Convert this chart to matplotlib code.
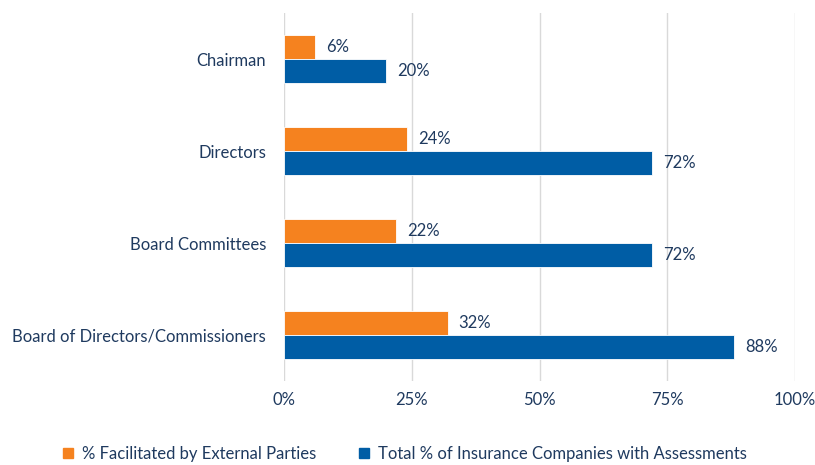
import matplotlib
matplotlib.use("Agg")
import matplotlib.pyplot as plt
from matplotlib.patches import Patch
import numpy as np

categories = ["Chairman", "Directors", "Board Committees", "Board of Directors/Commissioners"]
external = [6, 24, 22, 32]
total = [20, 72, 72, 88]
series_names = ["% Facilitated by External Parties", "Total % of Insurance Companies with Assessments"]
xticks = [0, 25, 50, 75, 100]

orange = "#F5821F"
blue = "#005DA5"
text_c = "#1F3A5F"

plt.rcParams['font.family'] = ['Lato', 'DejaVu Sans']

fig = plt.figure(figsize=(8.15, 4.65), dpi=100)
ax = fig.add_axes([284/815, 1-381/465, (795-284)/815, (381-13)/465])

y = np.arange(len(categories))
h = 0.26
ax.barh(y - h/2, external, height=h, color=orange, edgecolor="white", linewidth=0.6, label=series_names[0], zorder=3)
ax.barh(y + h/2, total, height=h, color=blue, edgecolor="white", linewidth=0.6, label=series_names[1], zorder=3)

fs = 12
for yi, v in zip(y, external):
    ax.annotate(f"{v}%", (v, yi - h/2), xytext=(8, 0), textcoords="offset points",
                va="center", ha="left", fontsize=fs, color=text_c)
for yi, v in zip(y, total):
    ax.annotate(f"{v}%", (v, yi + h/2), xytext=(8, 0), textcoords="offset points",
                va="center", ha="left", fontsize=fs, color=text_c)

ax.set_ylim(len(categories) - 0.5, -0.5)
ax.set_xlim(0, 100)
ax.set_yticks(y)
ax.set_yticklabels(categories, fontsize=fs, color=text_c)
ax.set_xticks(xticks)
ax.set_xticklabels([f"{t}%" for t in xticks], fontsize=fs, color=text_c)
ax.tick_params(axis="both", length=0)
ax.tick_params(axis="y", pad=13)
ax.tick_params(axis="x", pad=8)
ax.grid(axis="x", color="#D9D9D9", linewidth=1, zorder=0)
for s in ax.spines.values():
    s.set_visible(False)

handles = [Patch(color=orange), Patch(color=blue)]
fig.legend(handles, series_names, loc="center", bbox_to_anchor=(405/815, 1-454/465),
           ncol=2, frameon=False, fontsize=fs, labelcolor=text_c,
           handlelength=0.6, handleheight=0.6, columnspacing=2.6, handletextpad=0.5,
           borderpad=0.2)

fig.savefig("out.png", dpi=100)
